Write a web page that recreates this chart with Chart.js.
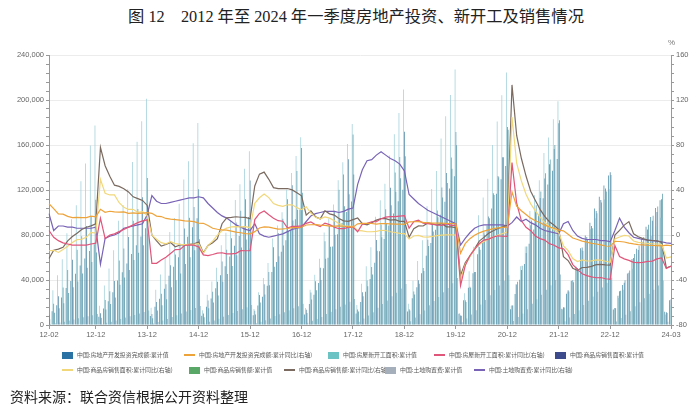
<!DOCTYPE html>
<html><head><meta charset="utf-8">
<script src="https://cdn.jsdelivr.net/npm/chart.js@4.4.1/dist/chart.umd.min.js"></script>
<style>
body{margin:0;width:700px;height:407px;position:relative;background:#fff;overflow:hidden;font-family:"Noto Sans CJK SC",sans-serif}
#title{position:absolute;left:0;top:3px;width:712px;text-align:center;font-size:16.3px;color:#222;font-family:"Liberation Serif","Noto Sans CJK SC",serif;white-space:pre}
#src{position:absolute;left:10px;top:386px;font-size:14px;color:#222;font-family:"Noto Sans CJK SC"}
#pct{position:absolute;left:668px;top:38px;font-size:8px;color:#777;font-family:"Liberation Sans"}
.lg{position:absolute;font-size:5.9px;color:#555;white-space:nowrap;line-height:8px;display:flex;align-items:center}
.sw{display:inline-block;width:11px;height:7px;margin-right:4px}
.ln{display:inline-block;width:11px;height:1.5px;margin-right:4px}
canvas{position:absolute;left:0;top:0}
</style></head>
<body>
<div id="title">图 12　2012 年至 2024 年一季度房地产投资、新开工及销售情况</div>
<canvas id="c" width="700" height="407"></canvas>
<div id="pct">%</div>
<div id="legend"></div>
<div id="src">资料来源：联合资信根据公开资料整理</div>
<script>
// ---- categories ----
const categories = [];
for (let y = 12; y <= 24; y++) {
  for (let m = 2; m <= 12; m++) {
    if (y === 24 && m > 3) break;
    categories.push(y + '-' + (m < 10 ? '0' + m : '' + m));
  }
}
const tickLabels = ['12-02','12-12','13-12','14-12','15-12','16-12','17-12','18-12','19-12','20-12','21-12','22-12','24-03'];

// ---- bar series (left axis) ----
const investValue = [
 6100,12200,17600,24400,33000,39100,45600,52800,59200,65700,71800,
 7300,14600,21100,29200,39600,46900,54600,63200,71000,78700,86000,
 8100,16200,23300,32300,43700,51800,60300,69900,78400,87000,95000,
 8200,16300,23500,32600,44200,52300,60900,70500,79200,87800,96000,
 8700,17400,25100,34900,47200,55900,65100,75400,84600,93900,102600,
 9300,18700,26900,37300,50500,59800,69700,80700,90600,100500,109800,
 10200,20400,29500,40900,55300,65500,76400,88400,99200,110000,120300,
 12100,23800,33500,46100,61600,72800,84600,98000,109600,121300,132200,
 10100,22000,33100,45900,62800,74900,88500,103500,116600,129500,141400,
 14000,27600,40200,54300,72200,84900,98100,112700,124900,137100,147600,
 14500,27800,39200,52100,68300,79500,90800,103600,113900,123900,132900,
 13700,26000,35500,45700,58600,67700,76900,87300,95900,104000,110900,
 11800,22100];
const newStartValue = [
 15100,31000,44300,58500,81600,94000,106400,127700,143600,159600,177300,
 17100,35200,50300,66400,92600,106600,120700,144900,163000,181100,201200,
 15300,31400,44900,59300,82600,95200,107800,129300,145500,161600,179600,
 13100,27000,38600,51000,71000,81900,92700,111200,125100,139000,154500,
 14200,29200,41700,55100,76800,88500,100200,120200,135200,150200,166900,
 15200,31300,44700,59000,82200,94700,107200,128600,144700,160800,178700,
 17800,36600,52300,69100,96300,111000,125600,150700,169600,188400,209300,
 18800,39400,57000,75300,105500,120900,136800,165700,185600,204400,227200,
 10400,28200,47800,69500,97500,113400,130100,160100,180900,204200,224400,
 17100,36200,52300,69800,101300,115300,128600,152900,166700,182800,198900,
 13700,29600,39700,51600,66400,76100,85100,94800,103700,111600,120600,
 13600,24100,31300,39700,49900,57000,63900,72100,79200,87500,95400,
 9400,17400];
const salesAreaValue = [
 8900,18900,25600,33400,49000,57900,66800,79000,87900,96800,111300,
 10400,22200,30000,39200,57400,67900,78300,92700,103100,113600,130600,
 9700,20500,27700,36200,53100,62700,72400,85700,95300,105000,120600,
 10300,21800,29600,38500,56500,66800,77100,91200,101500,111800,128500,
 12600,26700,36200,47200,69200,81800,94400,111700,124300,136900,157300,
 13600,28800,39000,50800,74500,88100,101600,120300,133800,147400,169400,
 13700,29200,39500,51500,75500,89300,103000,121900,135600,149300,171700,
 14100,29800,39800,50600,75800,89000,101800,122300,135200,148900,171600,
 8500,22000,34000,47100,69400,82500,96400,117100,132400,149100,176100,
 17400,36000,49000,63900,88600,101200,113000,130300,143000,156500,179400,
 15700,31000,39800,50700,68900,78200,87900,101400,111200,121300,135800,
 15100,29900,37600,46400,59500,66600,73900,84800,92600,100500,111700,
 11400,22700];
const salesAmountValue = [
 5200,11000,14800,19300,28400,33500,38700,45800,50900,56100,64500,
 6500,13800,18700,24400,35800,42300,48900,57800,64300,70800,81400,
 6100,13000,17500,22900,33600,39700,45800,54200,60300,66400,76300,
 7000,14800,20100,26200,38400,45400,52400,62000,69000,75900,87300,
 9400,20000,27100,35300,51800,61200,70600,83500,92900,102300,117600,
 10700,22700,30800,40100,58800,69500,80200,94900,105600,116300,133700,
 12000,25500,34500,45000,66000,78000,90000,106500,118500,130500,150000,
 12800,27200,36700,47900,70300,83100,95800,113400,126200,139000,159700,
 8200,20400,33100,47200,66900,80200,94900,115600,131400,149200,173600,
 17400,38400,52700,69800,92900,106500,118600,134800,147200,159900,181900,
 15500,29700,38000,48300,66100,75800,85900,99400,108800,118600,133300,
 15000,30500,39800,48500,63100,70500,78200,89100,97200,105300,116600,
 10600,21400];
const landFeeValue = [
 800,1600,2300,3000,4100,5000,5900,6900,7700,8700,9800,
 1000,2100,3000,4000,5400,6600,7700,9000,10200,11500,12900,
 1400,2700,3900,5300,7100,8700,10200,11900,13400,15100,17000,
 1400,2800,4100,5500,7400,9000,10600,12400,14000,15700,17700,
 1500,3000,4300,5800,7900,9600,11300,13200,14900,16700,18800,
 1900,3700,5300,7200,9700,11800,13900,16200,18300,20600,23200,
 2900,5800,8400,11300,15300,18600,21800,25500,28700,32400,36400,
 3300,6700,9600,12900,17500,21300,25000,29200,32900,37100,41700,
 2400,5800,9300,13200,18200,22300,26400,31100,35100,39400,44300,
 3600,7200,10300,13900,18800,22800,26900,31400,35400,39900,44800,
 3400,6700,9700,13100,17700,21500,25300,29500,33300,37500,42100,
 3200,6300,9100,12300,16600,20200,23800,27700,31300,35200,39600,
 2900,5600];

// ---- line series (right axis, %) ----
const investYoY = [
 27.8,23.5,18.7,18.5,16.6,15.4,15.6,15.4,15.4,16.7,16.2,
 22.8,20.2,21.1,20.6,20.3,20.5,19.3,19.7,19.2,19.5,19.8,
 19.3,16.8,16.4,14.7,14.1,13.7,13.2,12.5,12.4,11.9,10.5,
 10.4,8.5,6.0,5.1,4.6,4.3,3.5,2.6,2.0,1.3,1.0,
 3.0,6.2,7.2,7.0,6.1,5.3,5.4,5.8,6.6,6.5,6.9,
 8.9,9.1,9.3,8.8,8.5,7.9,7.9,8.1,7.8,7.5,7.0,
 9.9,10.4,10.3,10.2,9.7,10.2,10.1,9.9,9.7,9.7,9.5,
 11.6,11.8,11.9,11.2,10.9,10.6,10.5,10.5,10.3,10.2,9.9,
 -16.3,-7.7,-3.3,-0.3,1.9,3.4,4.6,5.6,6.3,6.8,7.0,
 38.3,25.6,21.6,18.3,15.0,12.7,10.9,8.8,7.2,6.0,4.4,
 3.7,0.7,-2.7,-4.0,-5.4,-6.4,-7.4,-8.0,-8.8,-9.8,-10.0,
 -5.7,-5.8,-6.2,-7.2,-7.9,-8.5,-8.8,-9.1,-9.3,-9.4,-9.6,
 -9.0,-9.5];
const newStartYoY = [
 4,-2,-5,-7,-8,-9,-9,-9,-9,-8,-7.3,
 15,-3,0,1,3,5,7,9,11,12.5,13.5,
 -25.2,-25.2,-22.3,-19.8,-16.4,-13.0,-12.9,-9.3,-8.8,-9.0,-10.7,
 -17.7,-18.4,-17.3,-16.1,-15.8,-16.8,-16.8,-16.3,-13.9,-14.0,-14.0,
 13.7,19.2,21.4,18.0,14.9,12.7,12.2,6.2,7.7,7.6,8.1,
 10.4,11.6,9.2,7.6,10.6,9.2,7.0,5.6,5.6,6.8,7.0,
 2.9,9.7,10.4,11.8,11.8,14.4,15.9,16.4,16.3,16.8,17.2,
 6.0,11.9,13.1,10.5,10.1,9.5,8.9,8.6,10.0,8.6,8.5,
 -44.9,-27.2,-18.4,-12.8,-7.6,-4.5,-3.6,-1.9,-0.7,-1.1,-1.2,
 64.3,28.2,12.8,6.9,3.8,-0.9,-3.2,-4.5,-7.7,-9.1,-11.4,
 -12.2,-17.5,-26.3,-30.6,-34.4,-36.1,-37.2,-38.0,-37.8,-38.9,-39.4,
 -9.4,-19.2,-21.2,-22.6,-24.3,-24.5,-24.4,-23.4,-23.2,-21.2,-20.4,
 -29.7,-27.8];
const salesAreaYoY = [
 -14.0,-13.6,-15.5,-12.9,-10.0,-6.6,-4.1,-3.8,-1.9,2.4,1.8,
 49.5,37.1,35.6,35.6,28.7,24.6,22.7,22.8,20.1,20.8,17.3,
 -0.1,-3.8,-6.8,-7.8,-6.0,-7.6,-8.3,-8.6,-8.3,-8.2,-7.6,
 -16.3,-9.2,-5.4,-0.2,3.9,6.1,7.2,7.5,7.2,7.4,6.5,
 28.2,33.1,36.5,33.2,27.9,26.4,25.5,26.9,26.8,24.3,22.5,
 25.1,19.5,15.7,14.3,16.1,15.0,12.7,10.3,8.2,7.9,7.7,
 4.1,3.6,2.9,2.9,3.3,4.2,4.0,2.9,2.2,1.4,1.3,
 -3.6,-0.9,-0.3,-1.6,-1.8,-1.3,-0.6,-0.1,0.1,0.2,-0.1,
 -39.9,-26.3,-19.3,-12.3,-8.4,-5.8,-3.3,-1.8,0.0,1.3,2.6,
 104.9,63.8,48.1,36.3,27.7,21.5,15.9,11.3,7.3,4.8,1.9,
 -9.6,-13.8,-20.9,-23.6,-22.2,-23.1,-23.0,-22.2,-22.3,-23.3,-24.3,
 -3.6,-1.8,-0.4,-0.9,-5.3,-6.5,-7.1,-7.5,-7.8,-8.0,-8.5,
 -20.5,-19.4];
const salesAmountYoY = [
 -20.9,-13.5,-12.6,-10.9,-5.2,-1.4,1.5,4.9,6.9,8.1,10.0,
 77.9,61.6,52.3,44.3,43.2,41.2,38.3,33.9,32.3,30.7,26.3,
 -0.1,-5.2,-9.9,-8.5,-6.7,-10.5,-8.9,-8.9,-8.3,-7.8,-6.3,
 -15.8,-9.3,-6.9,-3.3,10.0,15.3,15.7,16.2,15.8,15.6,14.4,
 43.6,54.1,55.9,49.5,42.1,41.3,41.3,41.3,40.1,37.5,34.8,
 17.7,21.5,16.1,14.3,21.5,18.8,17.7,14.6,12.6,12.2,13.7,
 15.1,10.1,9.0,11.0,13.2,14.5,14.5,13.3,13.7,12.1,12.2,
 -2.0,5.6,8.1,8.0,10.7,9.9,8.7,10.3,7.3,7.3,6.5,
 -35.9,-24.7,-18.6,-12.3,-5.4,-2.1,1.6,3.7,5.8,7.2,8.7,
 133.4,88.5,68.2,52.4,38.9,30.7,22.8,16.6,11.8,8.7,4.8,
 -19.3,-22.7,-29.5,-31.5,-28.9,-28.8,-27.9,-26.3,-26.1,-26.6,-26.7,
 -0.1,4.1,8.8,11.9,1.1,-1.5,-3.2,-4.6,-4.9,-5.2,-6.5,
 -29.3,-27.6];
const landFeeYoY = [
 19,4,8,8,7,7,6,6,6,6,7,
 -26,-3,-1,0,2,6,7,8,9,10,18,
 35,30,28,28,29,30,31,32,33,33,34,
 33,28,24,20,17,15,12,9,7,5,4,
 10,1,-1,-2,-1,0,1,3,5,6,7,
 12,17,19,20,21,21,21,20,21,23,24,
 45,58,66,67,71,74,71,68,66,63,57,
 36,32,28,25,22,20,18,16,14,12,10,
 -9,-3,2,6,8,9,9,9,9,9,8,
 11,16,12,14,11,9,6,4,3,2,1,
 10,12,4,-1,-3,-4,-4,-4,-5,-5,-6,
 4,15,7,2,-2,-3,-4,-4.5,-5,-5.5,-6,
 -7,-7.5];

// ---- series meta ----
const seriesNames = [
 '中国:房地产开发投资完成额:累计值','中国:房地产开发投资完成额:累计同比(右轴)',
 '中国:房屋新开工面积:累计值','中国:房屋新开工面积:累计同比(右轴)',
 '中国:商品房销售面积:累计值','中国:商品房销售面积:累计同比(右轴)',
 '中国:商品房销售额:累计值','中国:商品房销售额:累计同比(右轴)',
 '中国:土地购置费:累计值','中国:土地购置费:累计同比(右轴)'];
const barColors = ['#4a8ea6','#9fd0d9','#4f86a4','#5c9cac','#8fb5c3'];
const legendBarColors = ['#2a72a3','#6cc3c4','#3d4b8c','#5aa867','#a5aebb'];
const lineColors = ['#eea33a','#e0557a','#f2d77a','#7a6a60','#7863b6'];

const barData = [investValue,newStartValue,salesAreaValue,salesAmountValue,landFeeValue];
const lineData = [investYoY,newStartYoY,salesAreaYoY,salesAmountYoY,landFeeYoY];

const datasets = [];
for (let k = 0; k < 5; k++) {
  datasets.push({type:'bar', label:seriesNames[2*k], data:barData[k], backgroundColor:barColors[k],
    yAxisID:'y', order:10, categoryPercentage:0.85, barPercentage:0.95});
  datasets.push({type:'line', label:seriesNames[2*k+1], data:lineData[k], borderColor:lineColors[k],
    borderWidth:1.2, pointRadius:0, tension:0, fill:false, yAxisID:'y1', order:1});
}

const tickFont = {size:7.5, family:'Liberation Sans'};
new Chart(document.getElementById('c'), {
  type:'bar',
  data:{labels:categories, datasets},
  options:{
    responsive:false, animation:false, devicePixelRatio:1,
    layout:{padding:{top:55,left:0,right:0,bottom:0}},
    plugins:{legend:{display:false}, tooltip:{enabled:false}},
    scales:{
      x:{offset:false,
        grid:{offset:false, drawOnChartArea:false, tickLength:4,
          tickColor:(c)=> (c.tick && tickLabels.includes(categories[c.index])) ? '#999' : 'rgba(0,0,0,0)'},
        border:{color:'#999'},
        ticks:{autoSkip:false, maxRotation:0, minRotation:0, padding:1, font:tickFont, color:'#666',
          callback:function(v,i){const l=categories[i]; return tickLabels.includes(l)? l : '';}},
        afterFit:(s)=>{s.height=82;}},
      y:{position:'left', min:0, max:240000,
        ticks:{stepSize:8000, autoSkip:false, maxTicksLimit:1000, font:tickFont, color:'#666', padding:2,
          callback:(v)=> v%40000===0 ? v.toLocaleString('en-US') : ''},
        grid:{color:(c)=> (c.tick && c.tick.value%40000===0) ? '#ececec' : 'rgba(0,0,0,0)', tickColor:'#999', tickLength:3},
        border:{color:'#999'},
        afterFit:(s)=>{s.width=49;}},
      y1:{position:'right', min:-80, max:160,
        ticks:{stepSize:8, autoSkip:false, maxTicksLimit:1000, font:tickFont, color:'#666', padding:2,
          callback:(v)=> v%40===0 ? String(v) : ''},
        grid:{drawOnChartArea:false, tickColor:'#999', tickLength:3},
        border:{color:'#999'},
        afterFit:(s)=>{s.width=29;}}
    }
  }
});

// ---- HTML legend ----
const legendPos = [[62,355],[184,355],[328,355],[434,355],[555,355],[62,370],[189,370],[284,370],[385,370],[474,370]];
const lg = document.getElementById('legend');
for (let i = 0; i < 10; i++) {
  const k = Math.floor(i/2);
  const isBar = i%2===0;
  const d = document.createElement('div');
  d.className='lg';
  d.style.left=legendPos[i][0]+'px';
  d.style.top=(legendPos[i][1]-4)+'px';
  const m = document.createElement('span');
  m.className = isBar ? 'sw' : 'ln';
  m.style.background = isBar ? legendBarColors[k] : lineColors[k];
  d.appendChild(m);
  d.appendChild(document.createTextNode(seriesNames[i]));
  lg.appendChild(d);
}
</script>
</body></html>
